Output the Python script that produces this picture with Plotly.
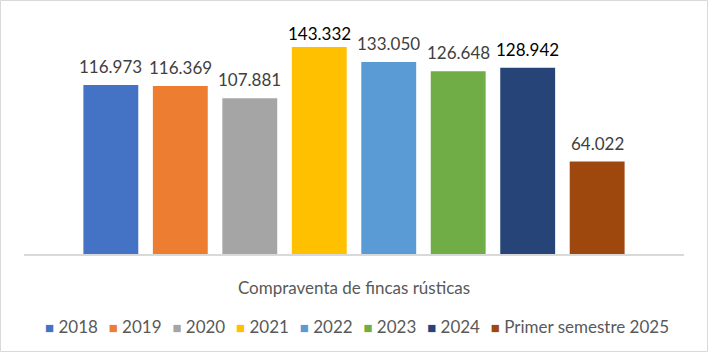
import plotly.graph_objects as go

category = "Compraventa de fincas rústicas"
series_names = ["2018", "2019", "2020", "2021", "2022", "2023", "2024", "Primer semestre 2025"]
values = [116973, 116369, 107881, 143332, 133050, 126648, 128942, 64022]
colors = ["#4472C4", "#ED7D31", "#A5A5A5", "#FFC000", "#5B9BD5", "#70AD47", "#264478", "#9E480E"]
label_colors = ["#404040", "#404040", "#404040", "#000000", "#404040", "#404040", "#000000", "#404040"]

FONT = "Lato"
W, H = 708, 352
ML, MR, MT, MB = 24, 24, 23, 98
PW, PH = W - ML - MR, H - MT - MB
Y_MAX = 160000
LABEL_CEIL = 0.874 * Y_MAX  # labels are kept inside the plot area, like Excel does

fig = go.Figure()
for i, (name, v, c) in enumerate(zip(series_names, values, colors)):
    fig.add_trace(go.Bar(x=[i], y=[v], name=name, width=0.79, marker=dict(color=c, line=dict(width=0)),
                         showlegend=False, hoverinfo="skip"))

annotations = []
for i, (v, lc) in enumerate(zip(values, label_colors)):
    annotations.append(dict(x=i, y=min(v, LABEL_CEIL), xref="x", yref="y", text=f"{v:,}".replace(",", "."),
                            showarrow=False, yanchor="bottom", yshift=6,
                            font=dict(family=FONT, size=17, color=lc)))

# legend as a single flowing line of rich text
parts = []
for name, c in zip(series_names, colors):
    parts.append(f"<span style='color:{c};font-size:15px'>■</span> {name}")
legend_text = "  \u2009".join(parts)
annotations.append(dict(x=0.5, y=(254 - 326) / PH, xref="paper", yref="paper", text=legend_text,
                        showarrow=False, xanchor="center", yanchor="middle", xshift=3,
                        font=dict(family=FONT, size=17, color="#595959")))

fig.update_layout(
    width=W, height=H,
    margin=dict(l=ML, r=MR, t=MT, b=MB, pad=0),
    paper_bgcolor="white", plot_bgcolor="white",
    barmode="overlay",
    showlegend=False,
    annotations=annotations,
    shapes=[dict(type="rect", xref="paper", yref="paper",
                 x0=(0.5 - ML) / PW, x1=(W - 0.5 - ML) / PW,
                 y0=(MT + PH - (H - 0.5)) / PH, y1=(MT + PH - 0.5) / PH,
                 line=dict(color="#D9D9D9", width=1))],
    xaxis=dict(range=[-1.25, 8.25], tickvals=[3.5], ticktext=[category], showgrid=False, zeroline=False,
               showline=True, linecolor="#D9D9D9", linewidth=1.5, ticks="", ticklabelstandoff=18,
               tickfont=dict(family=FONT, size=17, color="#595959"), fixedrange=True),
    yaxis=dict(range=[0, Y_MAX], visible=False, showgrid=False, zeroline=False, fixedrange=True),
    font=dict(family=FONT),
)

fig.write_html("out.html")
